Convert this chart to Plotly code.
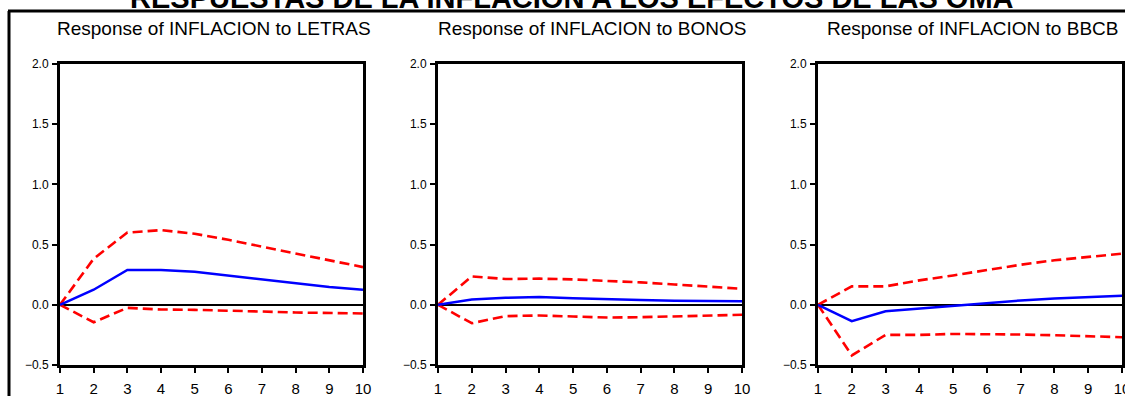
import plotly.graph_objects as go

W, H = 1125, 396

periods = [1, 2, 3, 4, 5, 6, 7, 8, 9, 10]
y_ticks = [-0.5, 0.0, 0.5, 1.0, 1.5, 2.0]

main_title = "RESPUESTAS DE LA INFLACION A LOS EFECTOS DE LAS OMA"
panel_titles = ["Response of INFLACION to LETRAS",
                "Response of INFLACION to BONOS",
                "Response of INFLACION to BBCB"]

letras_resp = [0.0, 0.125, 0.29, 0.29, 0.275, 0.244, 0.208, 0.178, 0.147, 0.125]
letras_up = [0.0, 0.383, 0.60, 0.62, 0.59, 0.54, 0.483, 0.425, 0.37, 0.313]
letras_lo = [0.0, -0.145, -0.025, -0.039, -0.042, -0.047, -0.056, -0.064, -0.069, -0.072]

bonos_resp = [0.0, 0.044, 0.058, 0.064, 0.055, 0.044, 0.039, 0.033, 0.030, 0.030]
bonos_up = [0.0, 0.236, 0.214, 0.217, 0.211, 0.200, 0.186, 0.169, 0.153, 0.133]
bonos_lo = [0.0, -0.153, -0.094, -0.089, -0.097, -0.106, -0.103, -0.097, -0.092, -0.083]

bbcb_resp = [0.0, -0.136, -0.053, -0.031, -0.003, 0.014, 0.036, 0.053, 0.064, 0.075]
bbcb_up = [0.0, 0.153, 0.153, 0.203, 0.244, 0.29, 0.333, 0.37, 0.397, 0.425]
bbcb_lo = [0.0, -0.42, -0.25, -0.25, -0.242, -0.242, -0.247, -0.253, -0.261, -0.269]

series = [(letras_resp, letras_up, letras_lo),
          (bonos_resp, bonos_up, bonos_lo),
          (bbcb_resp, bbcb_up, bbcb_lo)]

# panel pixel boxes (left, right)
panel_x = [(60, 363), (438, 742), (818, 1122)]
top_px, bot_px = 64, 365

font_fam = "Liberation Sans, Arial, sans-serif"

fig = go.Figure()
layout = dict(width=W, height=H, margin=dict(l=0, r=0, t=0, b=0, autoexpand=False),
              paper_bgcolor="white", plot_bgcolor="white", showlegend=False,
              annotations=[], shapes=[])

for i, ((resp, up, lo), (xl, xr)) in enumerate(zip(series, panel_x)):
    n = "" if i == 0 else str(i + 1)
    xa, ya = "x" + n, "y" + n
    fig.add_trace(go.Scatter(x=periods, y=up, mode="lines", xaxis=xa, yaxis=ya,
                             line=dict(color="#ff0000", width=2.6, dash="10px,5px")))
    fig.add_trace(go.Scatter(x=periods, y=lo, mode="lines", xaxis=xa, yaxis=ya,
                             line=dict(color="#ff0000", width=2.6, dash="10px,5px")))
    fig.add_trace(go.Scatter(x=periods, y=resp, mode="lines", xaxis=xa, yaxis=ya,
                             line=dict(color="#0000ff", width=2.5)))
    layout["xaxis" + n] = dict(domain=[xl / W, xr / W], range=[1, 10], anchor=ya,
                               automargin=False, ticklabeloverflow="allow",
                               tickvals=periods, ticks="outside", ticklen=5, tickwidth=1.5,
                               tickcolor="black", showline=True, linecolor="black",
                               linewidth=3, mirror=True, showgrid=False, zeroline=False,
                               tickfont=dict(family=font_fam, size=15, color="black"),
                               ticklabelstandoff=3)
    layout["yaxis" + n] = dict(domain=[1 - bot_px / H, 1 - top_px / H], range=[-0.5, 2.0],
                               anchor=xa, automargin=False, ticklabeloverflow="allow",
                               tickvals=y_ticks, tickformat=".1f",
                               ticks="outside", ticklen=5, tickwidth=1.5, tickcolor="black",
                               showline=True, linecolor="black", linewidth=3, mirror=True,
                               showgrid=False, zeroline=True, zerolinecolor="black",
                               zerolinewidth=1.5,
                               tickfont=dict(family=font_fam, size=12, color="black"),
                               ticklabelstandoff=1)
    layout["annotations"].append(dict(text=panel_titles[i], xref="paper", yref="paper",
                                      x=(xl + xr) / 2 / W + 2 / W, y=1 - 28 / H,
                                      xanchor="center", yanchor="middle", showarrow=False,
                                      font=dict(family=font_fam, size=19, color="black")))

layout["annotations"].append(dict(text="<b>" + main_title + "</b>", xref="paper", yref="paper",
                                  x=572 / W, y=1 + 2.5 / H, xanchor="center", yanchor="middle",
                                  showarrow=False,
                                  font=dict(family=font_fam, size=29, color="black")))
# outer frame lines
layout["shapes"].append(dict(type="line", xref="paper", yref="paper",
                             x0=8 / W, x1=1.01, y0=1 - 11 / H, y1=1 - 11 / H,
                             line=dict(color="black", width=3)))
layout["shapes"].append(dict(type="line", xref="paper", yref="paper",
                             x0=9 / W, x1=9 / W, y0=-0.01, y1=1 - 11 / H,
                             line=dict(color="black", width=3)))

fig.update_layout(**layout)
fig.write_html("out.html", config={"displayModeBar": False},
               post_script="document.body.style.margin='0px';document.body.style.overflow='hidden';")
